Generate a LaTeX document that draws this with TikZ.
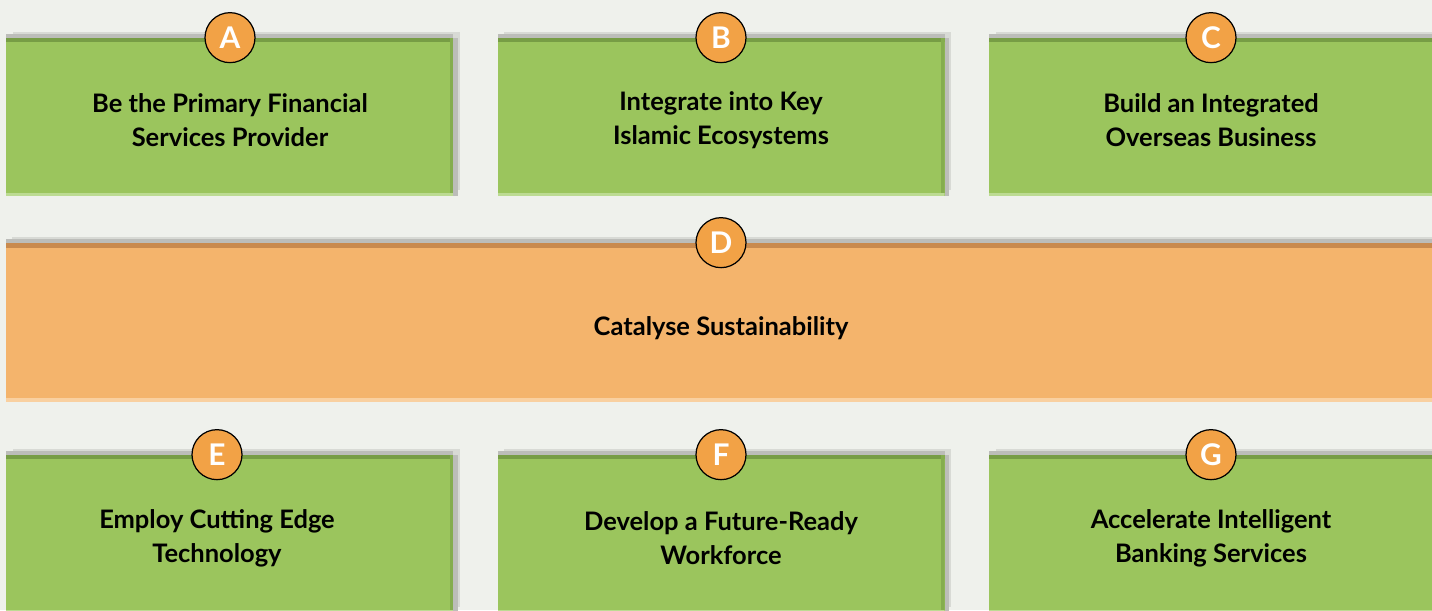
\documentclass[tikz,border=0pt]{standalone}
\usepackage{fontspec}
\setmainfont{Lato}
\usetikzlibrary{positioning,shadows}

\definecolor{paper}{HTML}{EFF1EC}
\definecolor{leafgreen}{HTML}{9BC55D}
\definecolor{leafgreendark}{HTML}{779D45}
\definecolor{leafgreenlight}{HTML}{BCDB92}
\definecolor{peach}{HTML}{F4B46C}
\definecolor{peachdark}{HTML}{C98A4D}
\definecolor{peachlight}{HTML}{F9D0A0}
\definecolor{badgefill}{HTML}{F2A246}
\definecolor{shadowgrey}{HTML}{BCBDB9}

\tikzset{
  soft shadow/.style={
    general shadow={fill=shadowgrey!45!paper, shadow xshift=0.13cm, shadow yshift=0.13cm},
    general shadow={fill=shadowgrey, shadow xshift=0.09cm},
    general shadow={fill=shadowgrey, shadow yshift=0.09cm}},
  tile/.style={rectangle, fill=leafgreen, inner sep=0pt,
    minimum width=8.94cm, minimum height=3.16cm, soft shadow,
    path picture={
      % darker rim on top and right, lighter rim at the bottom
      \fill[leafgreendark] (path picture bounding box.north west) rectangle ([yshift=-0.07cm]path picture bounding box.north east);
      \fill[leafgreendark!60!leafgreen] ([xshift=-0.07cm]path picture bounding box.north east) rectangle (path picture bounding box.south east);
      \fill[leafgreenlight] (path picture bounding box.south west) rectangle ([yshift=0.07cm]path picture bounding box.south east);
    }},
  band/.style={rectangle, fill=peach, inner sep=0pt,
    minimum width=28.78cm, minimum height=3.18cm, soft shadow,
    path picture={
      \fill[peachdark] (path picture bounding box.north west) rectangle ([yshift=-0.09cm]path picture bounding box.north east);
      \fill[peachlight] (path picture bounding box.south west) rectangle ([yshift=0.09cm]path picture bounding box.south east);
    }},
  caption/.style={font=\bfseries\fontsize{14.5}{19.5}\selectfont, align=center},
  badge/.style={circle, draw=black, line width=0.7pt, fill=badgefill,
    minimum size=1cm, inner sep=0pt, text=white,
    font=\bfseries\fontsize{17}{17}\selectfont},
}

\begin{document}
\begin{tikzpicture}
    \fill[paper] (0,0) rectangle (28.64,-12.2);
    \useasboundingbox (0,0) rectangle (28.64,-12.2);
    \clip (0,0) rectangle (28.64,-12.2);

    % Top row
    \node[tile] (tA) at (4.59,-2.34) {};
    \node[tile] (tB) at (14.42,-2.34) {};
    \node[tile] (tC) at (24.25,-2.34) {};
    \node[caption] (cA) at (4.60,-2.40) {Be the Primary Financial\\Services Provider};
    \node[caption] (cB) at (14.42,-2.40) {Integrate into Key\\Islamic Ecosystems};
    \node[caption] (cC) at (24.22,-2.40) {Build an Integrated\\Overseas Business};

    % Middle band
    \node[band] (tD) at (14.51,-6.45) {};
    \node[caption] (cD) at (14.42,-6.56) {Catalyse Sustainability};

    % Bottom row
    \node[tile] (tE) at (4.59,-10.68) {};
    \node[tile] (tF) at (14.42,-10.68) {};
    \node[tile] (tG) at (24.25,-10.68) {};
    \node[caption] (cE) at (4.34,-10.76) {Employ Cutting Edge\\Technology};
    \node[caption] (cF) at (14.42,-10.76) {Develop a Future-Ready\\Workforce};
    \node[caption] (cG) at (24.22,-10.76) {Accelerate Intelligent\\Banking Services};

    % Letter badges on the top edges
    \node[badge] (bA) at (cA |- tA.north) {A};
    \node[badge] (bB) at (cB |- tB.north) {B};
    \node[badge] (bC) at (cC |- tC.north) {C};
    \node[badge] (bD) at (cD |- tD.north) {D};
    \node[badge] (bE) at (cE |- tE.north) {E};
    \node[badge] (bF) at (cF |- tF.north) {F};
    \node[badge] (bG) at (cG |- tG.north) {G};
\end{tikzpicture}
\end{document}
